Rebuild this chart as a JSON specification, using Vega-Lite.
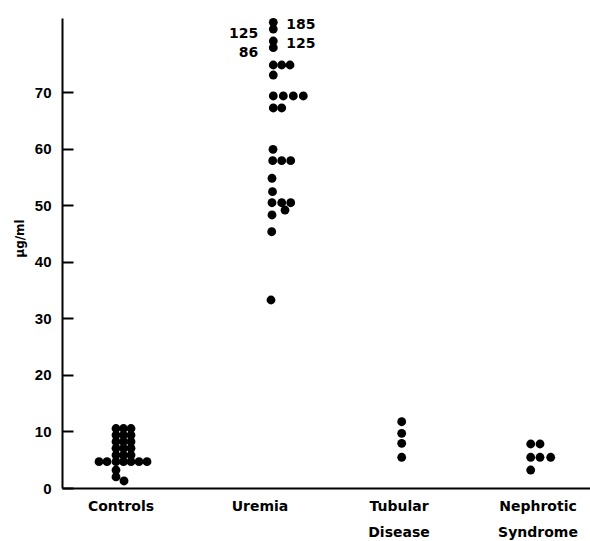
{
  "$schema": "https://vega.github.io/schema/vega-lite/v6.json",
  "width": 528,
  "height": 470,
  "autosize": {"type": "none"},
  "padding": {"left": 62, "top": 18, "right": 0, "bottom": 53},
  "background": "white",
  "config": {"view": {"stroke": null}, "font": "Liberation Sans"},
  "datasets": {
    "points": [
      {"group": "Controls", "value": 10.52, "col": -0.5},
      {"group": "Controls", "value": 10.52, "col": 0.25},
      {"group": "Controls", "value": 10.52, "col": 1.0},
      {"group": "Controls", "value": 9.37, "col": -0.5},
      {"group": "Controls", "value": 9.37, "col": 0.25},
      {"group": "Controls", "value": 9.37, "col": 1.0},
      {"group": "Controls", "value": 8.19, "col": -0.5},
      {"group": "Controls", "value": 8.19, "col": 0.25},
      {"group": "Controls", "value": 8.19, "col": 1.0},
      {"group": "Controls", "value": 7.02, "col": -0.5},
      {"group": "Controls", "value": 7.02, "col": 0.25},
      {"group": "Controls", "value": 7.02, "col": 1.0},
      {"group": "Controls", "value": 5.83, "col": -0.5},
      {"group": "Controls", "value": 5.83, "col": 0.25},
      {"group": "Controls", "value": 5.83, "col": 1.0},
      {"group": "Controls", "value": 4.65, "col": -2.2},
      {"group": "Controls", "value": 4.65, "col": -1.4},
      {"group": "Controls", "value": 4.65, "col": -0.5},
      {"group": "Controls", "value": 4.65, "col": 0.25},
      {"group": "Controls", "value": 4.65, "col": 1.0},
      {"group": "Controls", "value": 4.65, "col": 1.8},
      {"group": "Controls", "value": 4.65, "col": 2.6},
      {"group": "Controls", "value": 3.18, "col": -0.5},
      {"group": "Controls", "value": 1.96, "col": -0.5},
      {"group": "Controls", "value": 1.24, "col": 0.3},
      {"group": "Uremia", "value": 82.34, "col": 1.33, "label": "185"},
      {"group": "Uremia", "value": 81.15, "col": 1.33, "label": "125"},
      {"group": "Uremia", "value": 79.03, "col": 1.33, "label": "125"},
      {"group": "Uremia", "value": 77.85, "col": 1.33, "label": "86"},
      {"group": "Uremia", "value": 74.79, "col": 1.33},
      {"group": "Uremia", "value": 74.79, "col": 2.17},
      {"group": "Uremia", "value": 74.79, "col": 3.0},
      {"group": "Uremia", "value": 73.02, "col": 1.33},
      {"group": "Uremia", "value": 69.31, "col": 1.33},
      {"group": "Uremia", "value": 69.31, "col": 2.33},
      {"group": "Uremia", "value": 69.31, "col": 3.33},
      {"group": "Uremia", "value": 69.31, "col": 4.33},
      {"group": "Uremia", "value": 67.19, "col": 1.33},
      {"group": "Uremia", "value": 67.19, "col": 2.17},
      {"group": "Uremia", "value": 59.88, "col": 1.3},
      {"group": "Uremia", "value": 57.87, "col": 1.27},
      {"group": "Uremia", "value": 57.87, "col": 2.17},
      {"group": "Uremia", "value": 57.87, "col": 3.07},
      {"group": "Uremia", "value": 54.76, "col": 1.2},
      {"group": "Uremia", "value": 52.39, "col": 1.25},
      {"group": "Uremia", "value": 50.44, "col": 1.2},
      {"group": "Uremia", "value": 50.44, "col": 2.17},
      {"group": "Uremia", "value": 50.44, "col": 3.07},
      {"group": "Uremia", "value": 49.15, "col": 2.5},
      {"group": "Uremia", "value": 48.27, "col": 1.2},
      {"group": "Uremia", "value": 45.31, "col": 1.17},
      {"group": "Uremia", "value": 33.24, "col": 1.1},
      {"group": "Tubular Disease", "value": 11.72, "col": 0.27},
      {"group": "Tubular Disease", "value": 9.67, "col": 0.27},
      {"group": "Tubular Disease", "value": 7.9, "col": 0.27},
      {"group": "Tubular Disease", "value": 5.43, "col": 0.27},
      {"group": "Nephrotic Syndrome", "value": 7.78, "col": -0.73},
      {"group": "Nephrotic Syndrome", "value": 7.78, "col": 0.2},
      {"group": "Nephrotic Syndrome", "value": 5.43, "col": -0.73},
      {"group": "Nephrotic Syndrome", "value": 5.43, "col": 0.2},
      {"group": "Nephrotic Syndrome", "value": 5.43, "col": 1.27},
      {"group": "Nephrotic Syndrome", "value": 3.18, "col": -0.73}
    ]
  },
  "data": {"name": "points"},
  "encoding": {
    "x": {
      "field": "group",
      "type": "nominal",
      "sort": ["Controls", "Uremia", "Tubular Disease", "Nephrotic Syndrome"],
      "scale": {"range": [0, 535], "paddingInner": 0.151, "paddingOuter": 0},
      "axis": {
        "title": null,
        "ticks": false,
        "labelAngle": 0,
        "labelFont": "DejaVu Sans",
        "labelFontSize": 14,
        "labelFontWeight": "bold",
        "labelColor": "black",
        "labelPadding": 11,
        "labelBaseline": "top",
        "labelLineHeight": 26,
        "labelOverlap": false,
        "labelExpr": "split(datum.label, ' ')",
        "domainColor": "black",
        "domainWidth": 2
      }
    },
    "xOffset": {"field": "col", "type": "quantitative", "scale": {"domain": [-5.9, 5.9]}},
    "y": {
      "field": "value",
      "type": "quantitative",
      "scale": {"domain": [0, 83.1], "nice": false},
      "axis": {
        "orient": "left",
        "values": [0, 10, 20, 30, 40, 50, 60, 70],
        "title": "μg/ml",
        "titleFont": "DejaVu Sans",
        "titleFontSize": 12,
        "titleFontWeight": "bold",
        "titleColor": "black",
        "titleAngle": 270,
        "titleX": -36,
        "titleY": 220,
        "titleBaseline": "bottom",
        "labelFontSize": 15,
        "labelFontWeight": "bold",
        "labelColor": "black",
        "labelPadding": 22,
        "tickSize": -11,
        "tickWidth": 2,
        "tickColor": "black",
        "domainColor": "black",
        "domainWidth": 2,
        "grid": false
      }
    }
  },
  "layer": [
    {
      "mark": {"type": "circle", "size": 78, "opacity": 1, "color": "black"}
    },
    {
      "transform": [
        {"filter": "isValid(datum.label)"},
        {"window": [{"op": "row_number", "as": "rn"}], "sort": [{"field": "value", "order": "descending"}]},
        {"filter": "datum.rn % 2 == 1"}
      ],
      "mark": {"type": "text", "align": "left", "baseline": "middle", "dx": 13, "dy": 3, "font": "DejaVu Sans", "fontSize": 14, "fontWeight": "bold", "color": "black"},
      "encoding": {"text": {"field": "label"}}
    },
    {
      "transform": [
        {"filter": "isValid(datum.label)"},
        {"window": [{"op": "row_number", "as": "rn"}], "sort": [{"field": "value", "order": "descending"}]},
        {"filter": "datum.rn % 2 == 0"}
      ],
      "mark": {"type": "text", "align": "right", "baseline": "middle", "dx": -15, "dy": 5, "font": "DejaVu Sans", "fontSize": 14, "fontWeight": "bold", "color": "black"},
      "encoding": {"text": {"field": "label"}}
    }
  ]
}
